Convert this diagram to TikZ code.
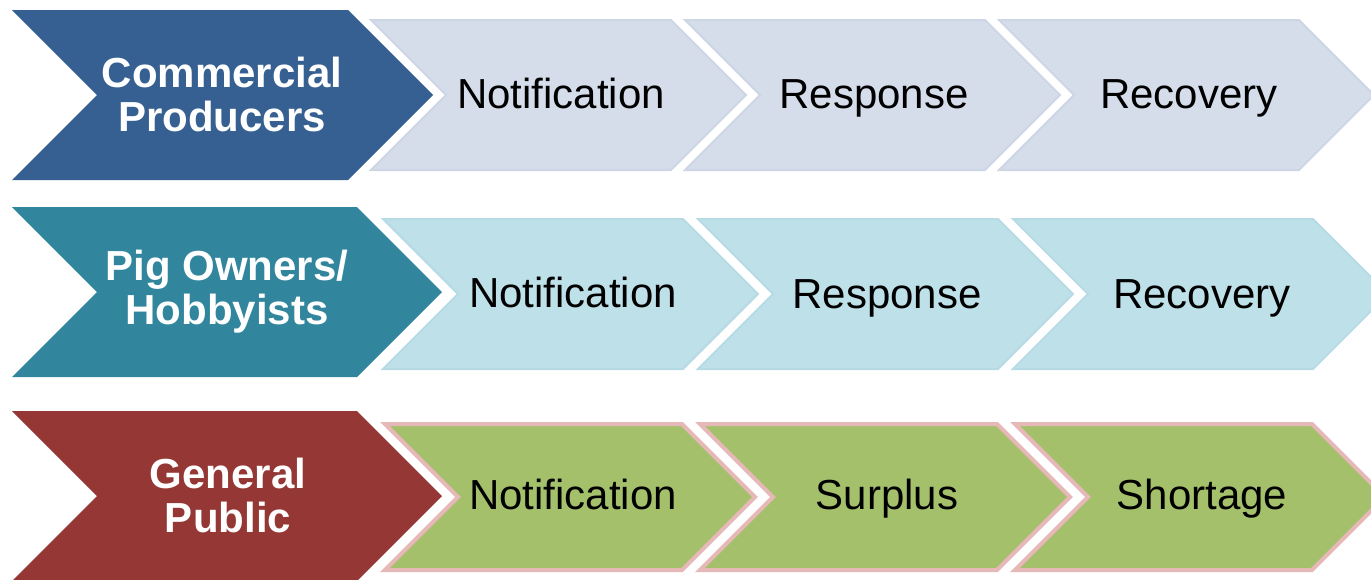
\documentclass[tikz,border=0pt]{standalone}
\usepackage{fontspec}
\setmainfont{Liberation Sans}
\usetikzlibrary{positioning}

\definecolor{prodblue}{HTML}{376092}
\definecolor{hobbyteal}{HTML}{31859C}
\definecolor{publicred}{HTML}{953735}
\definecolor{prodlight}{HTML}{D5DCEA}
\definecolor{prodedge}{HTML}{CED6E6}
\definecolor{hobbylight}{HTML}{BEE0E8}
\definecolor{hobbyedge}{HTML}{B7DBE4}
\definecolor{publicgreen}{HTML}{A4C06A}
\definecolor{publicpink}{HTML}{E6B9B8}

\tikzset{
  groupshape/.style={fill=#1},
  prodstage/.style={fill=prodlight,draw=prodedge,line width=2},
  hobbystage/.style={fill=hobbylight,draw=hobbyedge,line width=2},
  publicstage/.style={fill=publicgreen,draw=publicpink,line width=4},
  grouptext/.style={text=white,font=\fontsize{42}{44}\selectfont\bfseries,align=center,inner sep=0},
  stagetext/.style={text=black,font=\fontsize{42}{45}\selectfont,inner sep=0,anchor=base},
}

% chevron: style, left x, top y, flat top length, half height
\newcommand{\chevron}[5]{%
  \path[#1] (#2,#3) -- ++(#4,0) -- ++(#5,#5) -- ++(-#5,#5) -- ++(-#4,0) -- ++(#5,-#5) -- cycle;}

\begin{document}
\begin{tikzpicture}[x=1pt,y=-1pt]
\clip (0,0) rectangle (1371,579);
\fill[white] (0,0) rectangle (1371,579);

% Commercial producers
\chevron{groupshape=prodblue}{12}{10}{336}{85}
\chevron{prodstage}{371}{20}{300}{75}
\chevron{prodstage}{685}{20}{300}{75}
\chevron{prodstage}{999}{20}{300}{75}

\node[grouptext] (producers) at (222,94) {Commercial\\Producers};
\node[stagetext] (prodnotify) at (561,108) {Notification};
\node[stagetext] (prodresponse) at (874,108) {Response};
\node[stagetext] (prodrecovery) at (1189,108) {Recovery};

% Pig owners / hobbyists
\chevron{groupshape=hobbyteal}{12}{207}{345}{85}
\chevron{hobbystage}{383}{219}{300}{75}
\chevron{hobbystage}{698}{219}{300}{75}
\chevron{hobbystage}{1013}{219}{300}{75}

\node[grouptext] (hobbyists) at (227,292) {Pig Owners/\\Hobbyists};
\node[stagetext] (hobbynotify) at (573,307) {Notification};
\node[stagetext] (hobbyresponse) at (887,308) {Response};
\node[stagetext] (hobbyrecovery) at (1202,308) {Recovery};

% General public
\chevron{groupshape=publicred}{12}{411}{345}{85}
\chevron{publicstage}{385}{424}{297}{73}
\chevron{publicstage}{700}{424}{297}{73}
\chevron{publicstage}{1015}{424}{297}{73}

\node[grouptext] (public) at (228,495) {General\\Public};
\node[stagetext] (publicnotify) at (573,509) {Notification};
\node[stagetext] (publicsurplus) at (887,509) {Surplus};
\node[stagetext] (publicshortage) at (1202,509) {Shortage};

\end{tikzpicture}
\end{document}
